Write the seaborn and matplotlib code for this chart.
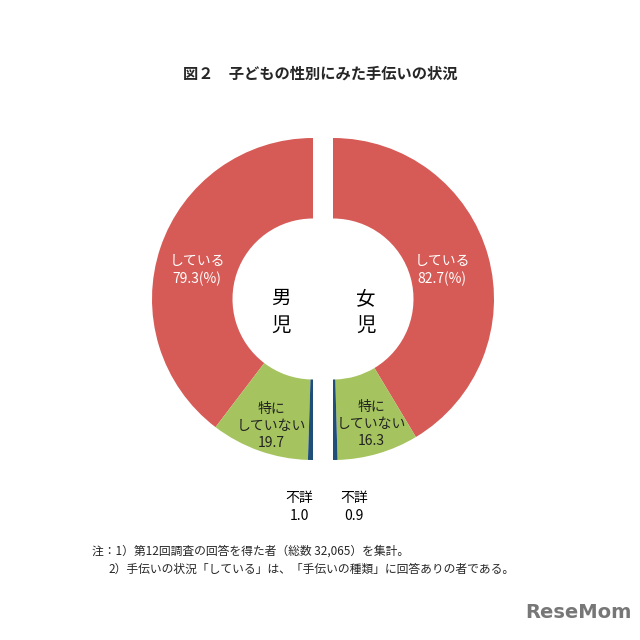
import matplotlib
matplotlib.use('Agg')
import matplotlib.pyplot as plt
import seaborn as sns

sns.set_theme(style='white')
plt.rcParams['font.family'] = ['Noto Sans CJK JP', 'DejaVu Sans']

# data
categories = ['している', '特にしていない', '不詳']
boys = [79.3, 19.7, 1.0]
girls = [82.7, 16.3, 0.9]
colors = ['#D65B56', '#A5C45F', '#1F4E79']

title = '図２　子どもの性別にみた手伝いの状況'
note1 = '注：1）第12回調査の回答を得た者（総数 32,065）を集計。'
note2 = '2）手伝いの状況「している」は、「手伝いの種類」に回答ありの者である。'

W = H = 640
R = 161.0          # outer radius in px
cx, cy = 323, 299  # center of the pair in px
gap = 10 / R

fig = plt.figure(figsize=(6.4, 6.4), dpi=100)
ax = fig.add_axes([0, 0, 1, 1])

# each child group is half a ring: pad with an invisible slice of equal size
wp = dict(width=0.5, edgecolor='none', linewidth=0)
ax.pie(boys + [sum(boys)], colors=colors + ['none'], startangle=90,
       counterclock=True, radius=1, center=(-gap, 0), wedgeprops=wp,
       frame=True)
ax.pie(girls + [sum(girls)], colors=colors + ['none'], startangle=90,
       counterclock=False, radius=1, center=(gap, 0), wedgeprops=wp,
       frame=True)
ax.set_xlim(-cx / R, (W - cx) / R)
ax.set_ylim(-(H - cy) / R, cy / R)
ax.set_aspect('equal')
ax.axis('off')


def px(x, y):
    return ((x - cx) / R, (cy - y) / R)


# している labels
ax.text(*px(197, 270), f'{categories[0]}\n{boys[0]}(%)', color='white',
        ha='center', va='center', fontsize=10, linespacing=1.3)
ax.text(*px(442, 270), f'{categories[0]}\n{girls[0]}(%)', color='white',
        ha='center', va='center', fontsize=10, linespacing=1.3)

# 特にしていない labels
ax.text(*px(271, 426), f'特に\nしていない\n{boys[1]}', color='#222222',
        ha='center', va='center', fontsize=10, linespacing=1.3)
ax.text(*px(371, 424), f'特に\nしていない\n{girls[1]}', color='#222222',
        ha='center', va='center', fontsize=10, linespacing=1.3)

# 不詳 labels
ax.text(*px(299, 507), f'{categories[2]}\n{boys[2]}', color='black',
        ha='center', va='center', fontsize=10, linespacing=1.3)
ax.text(*px(354, 507), f'{categories[2]}\n{girls[2]}', color='black',
        ha='center', va='center', fontsize=10, linespacing=1.3)

# centre labels
ax.text(*px(281, 312), '男\n児', ha='center', va='center', fontsize=14,
        linespacing=1.4, color='black')
ax.text(*px(366, 312), '女\n児', ha='center', va='center', fontsize=14,
        linespacing=1.4, color='black')

fig.text(320 / W, 1 - 74 / H, title, ha='center', va='center',
         fontsize=11, fontweight='bold')
fig.text(92 / W, 1 - 551 / H, note1, ha='left', va='center', fontsize=8.5)
fig.text(108 / W, 1 - 569 / H, note2, ha='left', va='center', fontsize=8.5)
fig.text(578 / W, 1 - 612 / H, 'ReseMom', ha='center', va='center',
         fontsize=14, fontweight='bold', color='#777777',
         family=['DejaVu Sans'])

fig.savefig('out.png', dpi=100, facecolor='white')
